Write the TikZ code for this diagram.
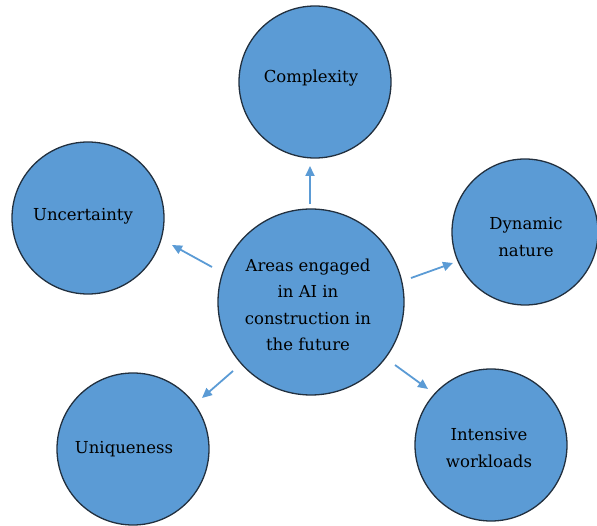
\documentclass[tikz,border=0pt]{standalone}
\usepackage{fontspec}
\setmainfont{DejaVu Serif}
\usetikzlibrary{arrows.meta}
\definecolor{bubble}{HTML}{5B9BD5}
\definecolor{rim}{HTML}{22303F}
\definecolor{arrowc}{HTML}{5B9BD5}
\tikzset{
  bub/.style={circle, draw=rim, fill=bubble, line width=1.3pt, inner sep=0pt},
  lbl/.style={align=center, text=black, font=\fontsize{16.5}{26.5}\selectfont},
  conn/.style={draw=arrowc, line width=1.8pt, -{Triangle[length=10pt,width=9pt]}}
}
\begin{document}
\begin{tikzpicture}[x=1pt,y=-1pt]
\useasboundingbox (0,0) rectangle (597,526);
% circles
\node[bub, minimum size=186pt] (c) at (311,302) {};
\node[bub, minimum size=152pt] (top) at (315,82) {};
\node[bub, minimum size=152pt] (unc) at (88,218) {};
\node[bub, minimum size=146pt] (dyn) at (525,232) {};
\node[bub, minimum size=152pt] (uni) at (133,449) {};
\node[bub, minimum size=152pt] (int) at (491,445) {};
% labels
\node[lbl] (tc) at (308,305) {Areas engaged\\in AI in\\construction in\\the future};
\node[lbl] (ttop) at (311,78) {Complexity};
\node[lbl] (tunc) at (83,216) {Uncertainty};
\node[lbl] (tdyn) at (526,237) {Dynamic\\nature};
\node[lbl] (tuni) at (124,449) {Uniqueness};
\node[lbl] (tint) at (489,448) {Intensive\\workloads};
% arrow ends
\coordinate (a1s) at (310,204); \coordinate (a1e) at (310,166);
\coordinate (a2s) at (212,267); \coordinate (a2e) at (172,245);
\coordinate (a3s) at (411,278); \coordinate (a3e) at (453,263);
\coordinate (a4s) at (233,371); \coordinate (a4e) at (202,398);
\coordinate (a5s) at (395,365); \coordinate (a5e) at (428,389);
\draw[conn] (a1s) -- (a1e);
\draw[conn] (a2s) -- (a2e);
\draw[conn] (a3s) -- (a3e);
\draw[conn] (a4s) -- (a4e);
\draw[conn] (a5s) -- (a5e);
\end{tikzpicture}
\end{document}
